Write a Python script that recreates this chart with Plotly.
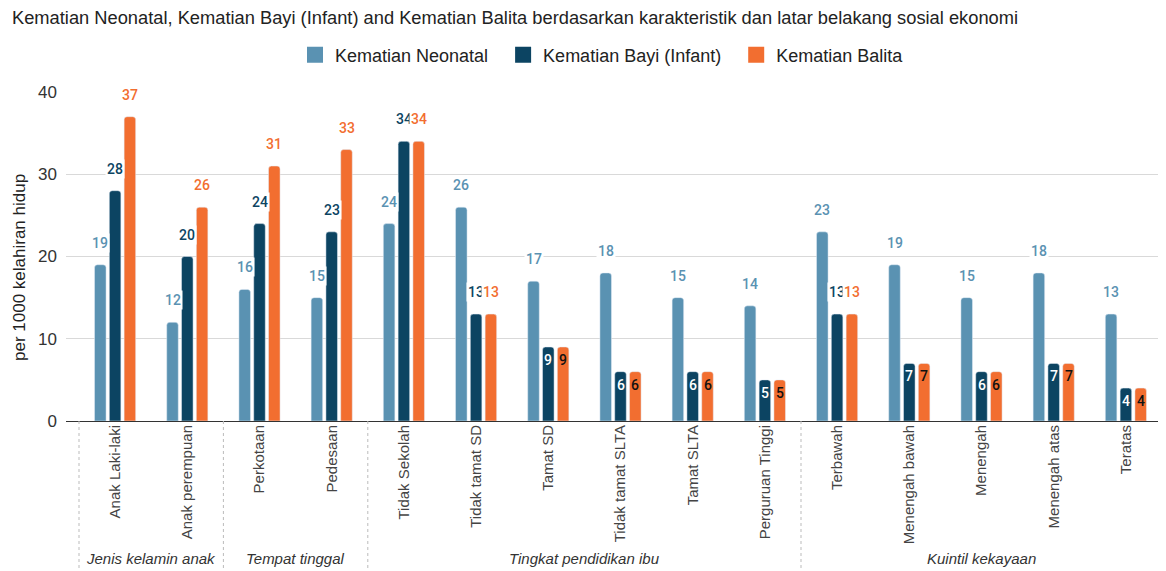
import plotly.graph_objects as go

categories = ["Anak Laki-laki", "Anak perempuan", "Perkotaan", "Pedesaan", "Tidak Sekolah",
              "Tidak tamat SD", "Tamat SD", "Tidak tamat SLTA", "Tamat SLTA", "Perguruan Tinggi",
              "Terbawah", "Menengah bawah", "Menengah", "Menengah atas", "Teratas"]
neonatal = [19, 12, 16, 15, 24, 26, 17, 18, 15, 14, 23, 19, 15, 18, 13]
bayi = [28, 20, 24, 23, 34, 13, 9, 6, 6, 5, 13, 7, 6, 7, 4]
balita = [37, 26, 31, 33, 34, 13, 9, 6, 6, 5, 13, 7, 6, 7, 4]
groups = ["Jenis kelamin anak", "Tempat tinggal", "Tingkat pendidikan ibu", "Kuintil kekayaan"]
group_sizes = [2, 2, 6, 5]
yticks = [0, 10, 20, 30, 40]

series = [
    ("Kematian Neonatal", neonatal, "#5a92b2", "#5a92b2", "#ffffff"),
    ("Kematian Bayi (Infant)", bayi, "#0c4462", "#0c4462", "#ffffff"),
    ("Kematian Balita", balita, "#f26e30", "#f26e30", "#111111"),
]
legend_pad = ["\u00a0\u00a0", "\u00a0\u00a0", ""]
centers = [-0.205, 0.0, 0.205]
bw = 0.16

BASE = "Liberation Sans, Arial, sans-serif"
LBL = "Roboto, sans-serif"

# the page has an 8px body margin; figure coordinates are page coordinates minus 8
W, H = 1158, 563
L, T, B, R = 58, 84, 150, 4
PW = W - L - R
PH = H - T - B

fig = go.Figure()
annotations = []
for (name, vals, col, tcol, icol), c, pad in zip(series, centers, legend_pad):
    fig.add_trace(go.Bar(x=categories, y=vals, name=name, marker_color=col,
                         width=bw, offset=c - bw / 2, showlegend=False))
    fig.add_trace(go.Scatter(x=[None], y=[None], mode="markers", name=name + pad,
                             marker=dict(symbol="square", size=16, color=col)))
    for i, v in enumerate(vals):
        if v >= 10:
            annotations.append(dict(x=i + c, y=v, xref="x", yref="y", text=str(v),
                                    showarrow=False, yanchor="middle", yshift=22,
                                    bgcolor="white", borderpad=1,
                                    font=dict(family=LBL, size=14, color=tcol, weight=500)))
        else:
            annotations.append(dict(x=i + c, y=v, xref="x", yref="y", text=str(v),
                                    showarrow=False, yanchor="middle", yshift=-13,
                                    font=dict(family=LBL, size=14, color=icol, weight=500)))

# group labels and separators
shapes = []
start = 0
bounds = [-0.5]
for g, n in zip(groups, group_sizes):
    mid = start + (n - 1) / 2
    annotations.append(dict(x=mid, y=-(550 - (H - B)) / PH, xref="x", yref="paper", text=g,
                            showarrow=False, yanchor="middle", xanchor="center",
                            font=dict(family=BASE, size=15, color="#333333", style="italic")))
    start += n
    bounds.append(start - 0.5)
for b in bounds:
    shapes.append(dict(type="line", xref="x", yref="paper", x0=b, x1=b, y0=0, y1=-B / PH,
                       line=dict(color="#bbbbbb", width=1, dash="dot")))

annotations.append(dict(x=(11 - L) / PW, y=(H - B - 260) / PH, xref="paper", yref="paper",
                        text="per 1000 kelahiran hidup", showarrow=False, textangle=-90,
                        xanchor="center", yanchor="middle",
                        font=dict(family=BASE, size=17, color="#222222")))

fig.update_layout(
    width=W, height=H,
    margin=dict(l=L, r=R, t=T, b=B),
    paper_bgcolor="white", plot_bgcolor="white",
    barmode="overlay", barcornerradius=3,
    title=dict(text="Kematian Neonatal, Kematian Bayi (Infant) and Kematian Balita berdasarkan karakteristik dan latar belakang sosial ekonomi",
               x=4 / W, xanchor="left", xref="container", y=1 - 10 / H, yanchor="middle", yref="container",
               font=dict(family=BASE, size=18.3, color="#222222")),
    legend=dict(orientation="h", xref="container", yref="container", x=594 / W, xanchor="center",
                y=1 - 47 / H, yanchor="middle", font=dict(family=BASE, size=18, color="#222222")),
    xaxis=dict(type="category", range=[-0.68, 14.5], showgrid=False, ticks="",
               tickangle=-90, tickfont=dict(family=BASE, size=15, color="#444444"), fixedrange=True),
    yaxis=dict(range=[0, 40], tickvals=yticks, showgrid=True, gridcolor="#d9d9d9", gridwidth=1,
               zeroline=True, zerolinecolor="#333333", zerolinewidth=1.3, ticklabelstandoff=8,
               tickfont=dict(family=BASE, size=17, color="#333333"), ticks=""),
    annotations=annotations, shapes=shapes,
)

fig.write_html("out.html")
